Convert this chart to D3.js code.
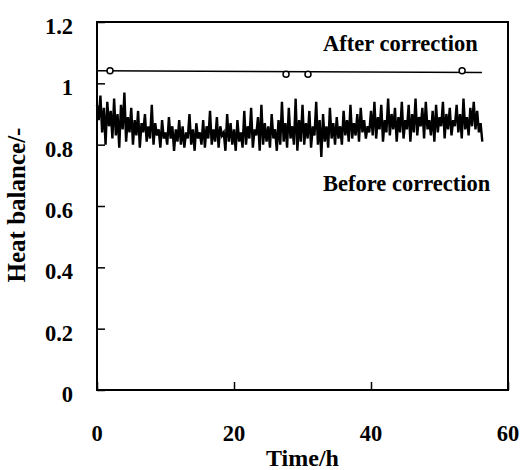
<!DOCTYPE html>
<html>
<head>
<meta charset="utf-8">
<script src="https://cdn.jsdelivr.net/npm/d3@7"></script>
<style>
  body { margin: 0; background: #fff; }
  text { font-family: "Liberation Serif", "Times New Roman", serif; font-weight: bold; fill: #000; }
</style>
</head>
<body>
<div id="chart"></div>
<script>
// Tick labels
const xTicks = [0, 20, 40, 60];
const yTicks = [0, 0.2, 0.4, 0.6, 0.8, 1, 1.2];

// Before correction: heat balance sampled every 0.25 h from t = 0
const sampleStep = 0.25;
const beforeValues = [
    0.93,0.88,0.96,0.84,0.92,0.80,0.94,0.86,0.91,0.82,
    0.95,0.83,0.90,0.79,0.93,0.85,0.97,0.81,0.89,0.84,
    0.92,0.80,0.88,0.83,0.91,0.79,0.87,0.84,0.90,0.81,
    0.86,0.82,0.93,0.80,0.87,0.83,0.85,0.79,0.88,0.82,
    0.84,0.80,0.89,0.82,0.86,0.78,0.85,0.81,0.88,0.80,
    0.86,0.79,0.84,0.82,0.90,0.80,0.85,0.78,0.87,0.82,
    0.84,0.80,0.88,0.79,0.86,0.82,0.91,0.80,0.85,0.81,
    0.89,0.79,0.86,0.83,0.84,0.78,0.90,0.81,0.87,0.80,
    0.85,0.78,0.88,0.81,0.84,0.79,0.91,0.80,0.86,0.82,
    0.92,0.79,0.85,0.83,0.89,0.78,0.93,0.80,0.87,0.81,
    0.86,0.79,0.90,0.82,0.85,0.78,0.88,0.80,0.94,0.81,
    0.87,0.79,0.92,0.82,0.86,0.80,0.95,0.78,0.88,0.81,
    0.93,0.80,0.87,0.82,0.91,0.79,0.86,0.83,0.94,0.80,
    0.88,0.76,0.90,0.81,0.86,0.79,0.92,0.82,0.87,0.80,
    0.89,0.82,0.86,0.80,0.91,0.83,0.88,0.81,0.93,0.82,
    0.87,0.83,0.90,0.81,0.92,0.84,0.88,0.82,0.86,0.84,
    0.91,0.83,0.94,0.82,0.89,0.85,0.93,0.81,0.88,0.84,
    0.95,0.83,0.90,0.85,0.92,0.81,0.89,0.84,0.94,0.82,
    0.88,0.85,0.93,0.81,0.90,0.84,0.95,0.83,0.89,0.86,
    0.92,0.82,0.94,0.85,0.88,0.83,0.91,0.81,0.93,0.84,
    0.89,0.86,0.94,0.82,0.90,0.85,0.92,0.83,0.88,0.86,
    0.93,0.84,0.90,0.82,0.95,0.85,0.89,0.83,0.92,0.86,
    0.94,0.85,0.91,0.84,0.87,0.81
];

// After correction: fitted line and measured points
const afterLineTime = [0, 56.2];
const afterLineValue = [1.041, 1.035];
const afterPointTime = [1.9, 27.6, 30.8, 53.3];
const afterPointValue = [1.041, 1.030, 1.030, 1.041];

const width = 526, height = 470;
const margin = { top: 22, right: 18, bottom: 80, left: 97 };

const svg = d3.select("#chart").append("svg")
    .attr("width", width)
    .attr("height", height);

const x = d3.scaleLinear().domain([0, 60]).range([margin.left, width - margin.right]);
const y = d3.scaleLinear().domain([0, 1.2]).range([height - margin.bottom, margin.top]);

// Frame
svg.append("rect")
    .attr("x", x(0)).attr("y", y(1.2))
    .attr("width", x(60) - x(0)).attr("height", y(0) - y(1.2))
    .attr("fill", "none").attr("stroke", "#000").attr("stroke-width", 2);

// Inward ticks
svg.append("g")
    .attr("transform", `translate(0,${y(0)})`)
    .call(d3.axisTop(x).tickValues(xTicks).tickSize(8).tickFormat(""))
    .call(g => g.select(".domain").remove())
    .selectAll("line").attr("stroke-width", 1.5);

svg.append("g")
    .attr("transform", `translate(${x(0)},0)`)
    .call(d3.axisRight(y).tickValues(yTicks).tickSize(8).tickFormat(""))
    .call(g => g.select(".domain").remove())
    .selectAll("line").attr("stroke-width", 1.5);

// Tick labels
svg.append("g").selectAll("text")
    .data(xTicks).join("text")
    .attr("x", d => x(d)).attr("y", 441)
    .attr("text-anchor", "middle")
    .style("font-size", "22.5px")
    .text(d => d);

svg.append("g").selectAll("text")
    .data(yTicks).join("text")
    .attr("x", 73).attr("y", d => y(d) + 12)
    .attr("text-anchor", "end")
    .style("font-size", "22.5px")
    .text(d => d);

// Axis titles
svg.append("text")
    .attr("x", (x(0) + x(60)) / 2).attr("y", 466)
    .attr("text-anchor", "middle")
    .style("font-size", "24px")
    .text("Time/h");

svg.append("text")
    .attr("transform", `translate(25,205) rotate(-90)`)
    .attr("text-anchor", "middle")
    .style("font-size", "25px")
    .text("Heat balance/-");

// Before correction series
const line = d3.line()
    .x((d, i) => x(i * sampleStep))
    .y(d => y(d));

svg.append("path")
    .datum(beforeValues)
    .attr("d", line)
    .attr("fill", "none")
    .attr("stroke", "#000")
    .attr("stroke-width", 2.4);

// After correction series
svg.append("line")
    .attr("x1", x(afterLineTime[0])).attr("y1", y(afterLineValue[0]))
    .attr("x2", x(afterLineTime[1])).attr("y2", y(afterLineValue[1]))
    .attr("stroke", "#000").attr("stroke-width", 1.5);

svg.append("g").selectAll("circle")
    .data(afterPointTime).join("circle")
    .attr("cx", d => x(d))
    .attr("cy", (d, i) => y(afterPointValue[i]))
    .attr("r", 3)
    .attr("fill", "#fff").attr("stroke", "#000").attr("stroke-width", 1.5);

// Annotations
svg.append("text")
    .attr("x", 323).attr("y", 51)
    .style("font-size", "22.5px")
    .text("After correction");

svg.append("text")
    .attr("x", 323).attr("y", 191)
    .style("font-size", "22.5px")
    .text("Before correction");
</script>
</body>
</html>
